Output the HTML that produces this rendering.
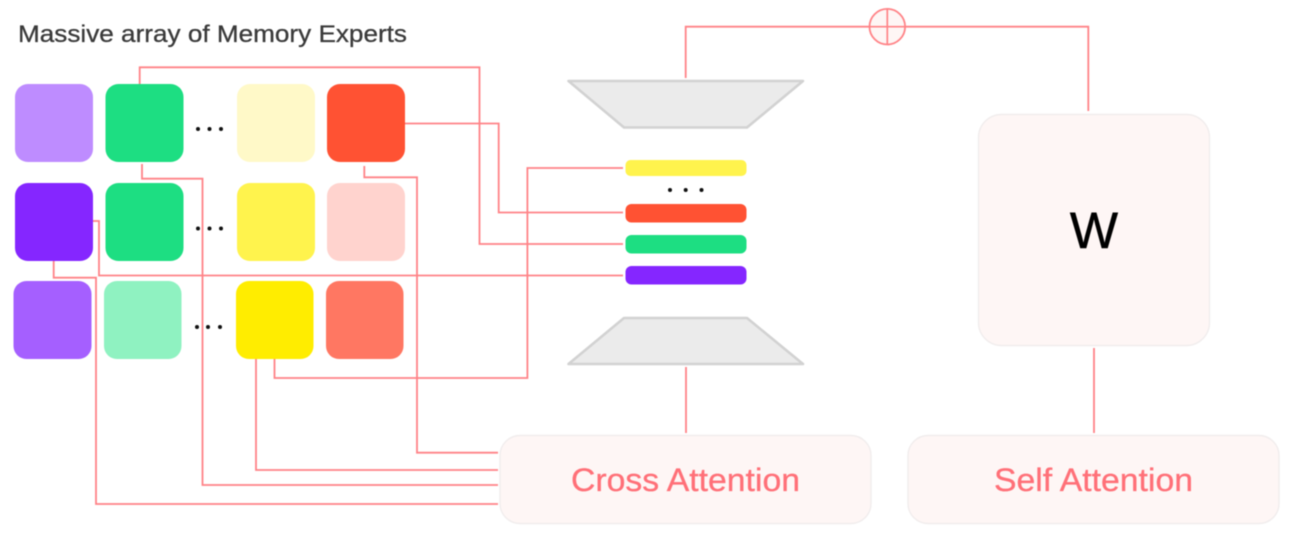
<!DOCTYPE html>
<html>
<head>
<meta charset="utf-8">
<style>
html,body{margin:0;padding:0;background:#fff;width:1292px;height:539px;overflow:hidden}
svg{display:block;filter:blur(.4px)}
text{font-family:"Liberation Sans",sans-serif}
</style>
</head>
<body>
<svg width="1292" height="539" viewBox="0 0 1292 539" xmlns="http://www.w3.org/2000/svg">
<rect width="1292" height="539" fill="#fff"/>
<text x="18" y="42" font-size="24.500" fill="#3a3a3a" stroke="#3a3a3a" stroke-width=".3" textLength="389" lengthAdjust="spacingAndGlyphs">Massive array of Memory Experts</text>

<g fill="none" stroke="#FF8387" stroke-width="1.800">
<path d="M139.700 84V67.300H479.500V244H623"/>
<path d="M405 123.500H498.700V212.500H623"/>
<path d="M142 164V178.700H202.500V485H498"/>
<path d="M364.300 166V177.300H417V452.700H498"/>
<path d="M93 221H99V275.500H623"/>
<path d="M53.700 261V277.700H96V504H498"/>
<path d="M256 359V470H498"/>
<path d="M274.500 359V378H527.400V168H623"/>
<path d="M685.700 78V26.700H1088.300V111"/>
<path d="M686 367V433"/>
<path d="M1094 348V433"/>
</g>

<g>
<rect x="15" y="84" width="78" height="78" rx="13" fill="#BE8CFF"/>
<rect x="105.500" y="84" width="78" height="78" rx="13" fill="#1DDE82"/>
<rect x="237" y="84" width="78" height="78" rx="13" fill="#FFF9C8"/>
<rect x="327" y="84" width="78" height="78" rx="13" fill="#FF5233"/>
<rect x="15" y="183" width="78" height="78" rx="13" fill="#8526FF"/>
<rect x="105.500" y="183" width="78" height="78" rx="13" fill="#1DDE82"/>
<rect x="237" y="183" width="78" height="78" rx="13" fill="#FFF34D"/>
<rect x="327" y="183" width="78" height="78" rx="13" fill="#FFD3CE"/>
<rect x="13.500" y="281" width="78" height="78" rx="13" fill="#A55FFF"/>
<rect x="104" y="281" width="77.500" height="78" rx="13" fill="#8FF2C1"/>
<rect x="236" y="281" width="77.500" height="78" rx="13" fill="#FFED00"/>
<rect x="326" y="281" width="77.500" height="78" rx="13" fill="#FF7762"/>
</g>

<g fill="#111">
<circle cx="198" cy="129" r="2"/><circle cx="209.500" cy="129" r="2"/><circle cx="221" cy="129" r="2"/>
<circle cx="198" cy="228.500" r="2"/><circle cx="209.500" cy="228.500" r="2"/><circle cx="221" cy="228.500" r="2"/>
<circle cx="197" cy="327" r="2"/><circle cx="208" cy="327" r="2"/><circle cx="220" cy="327" r="2"/>
<circle cx="670" cy="190" r="2"/><circle cx="685.700" cy="190" r="2"/><circle cx="701.500" cy="190" r="2"/>
</g>

<path d="M568.500 81H803L747 127.500H624Z" fill="#EBEBEB" stroke="#D2D2D2" stroke-width="2.600" stroke-linejoin="round"/>
<path d="M624 318H747L803 364H568.500Z" fill="#EBEBEB" stroke="#D2D2D2" stroke-width="2.600" stroke-linejoin="round"/>

<rect x="625.500" y="160" width="121" height="16" rx="5" fill="#FFF34D"/>
<rect x="625.500" y="204" width="121" height="18.500" rx="6" fill="#FF5233"/>
<rect x="625.500" y="235" width="121" height="18.500" rx="6" fill="#1DDE82"/>
<rect x="625.500" y="266" width="121" height="18.500" rx="6" fill="#8526FF"/>

<circle cx="887.300" cy="26.700" r="17.800" fill="#FEF6F5" stroke="#FF8387" stroke-width="1.800"/>
<path d="M887.300 9V44.500M869.500 26.700H905" stroke="#FF8387" stroke-width="1.700" fill="none"/>

<rect x="978.500" y="114.500" width="231" height="231" rx="23" fill="#FEF6F5" stroke="#F1EDED" stroke-width="1.400"/>
<rect x="500" y="435.500" width="371" height="88" rx="20" fill="#FEF6F5" stroke="#F1EDED" stroke-width="1.400"/>
<rect x="908" y="435.500" width="371" height="88" rx="20" fill="#FEF6F5" stroke="#F1EDED" stroke-width="1.400"/>

<text x="1094" y="248" font-size="51" fill="#000" stroke="#000" stroke-width=".5" text-anchor="middle">W</text>
<text x="571" y="491" font-size="32" fill="#FF7078" stroke="#FF7078" stroke-width=".3" textLength="229" lengthAdjust="spacingAndGlyphs">Cross Attention</text>
<text x="994" y="491" font-size="32" fill="#FF7078" stroke="#FF7078" stroke-width=".3" textLength="199" lengthAdjust="spacingAndGlyphs">Self Attention</text>
</svg>
</body>
</html>
